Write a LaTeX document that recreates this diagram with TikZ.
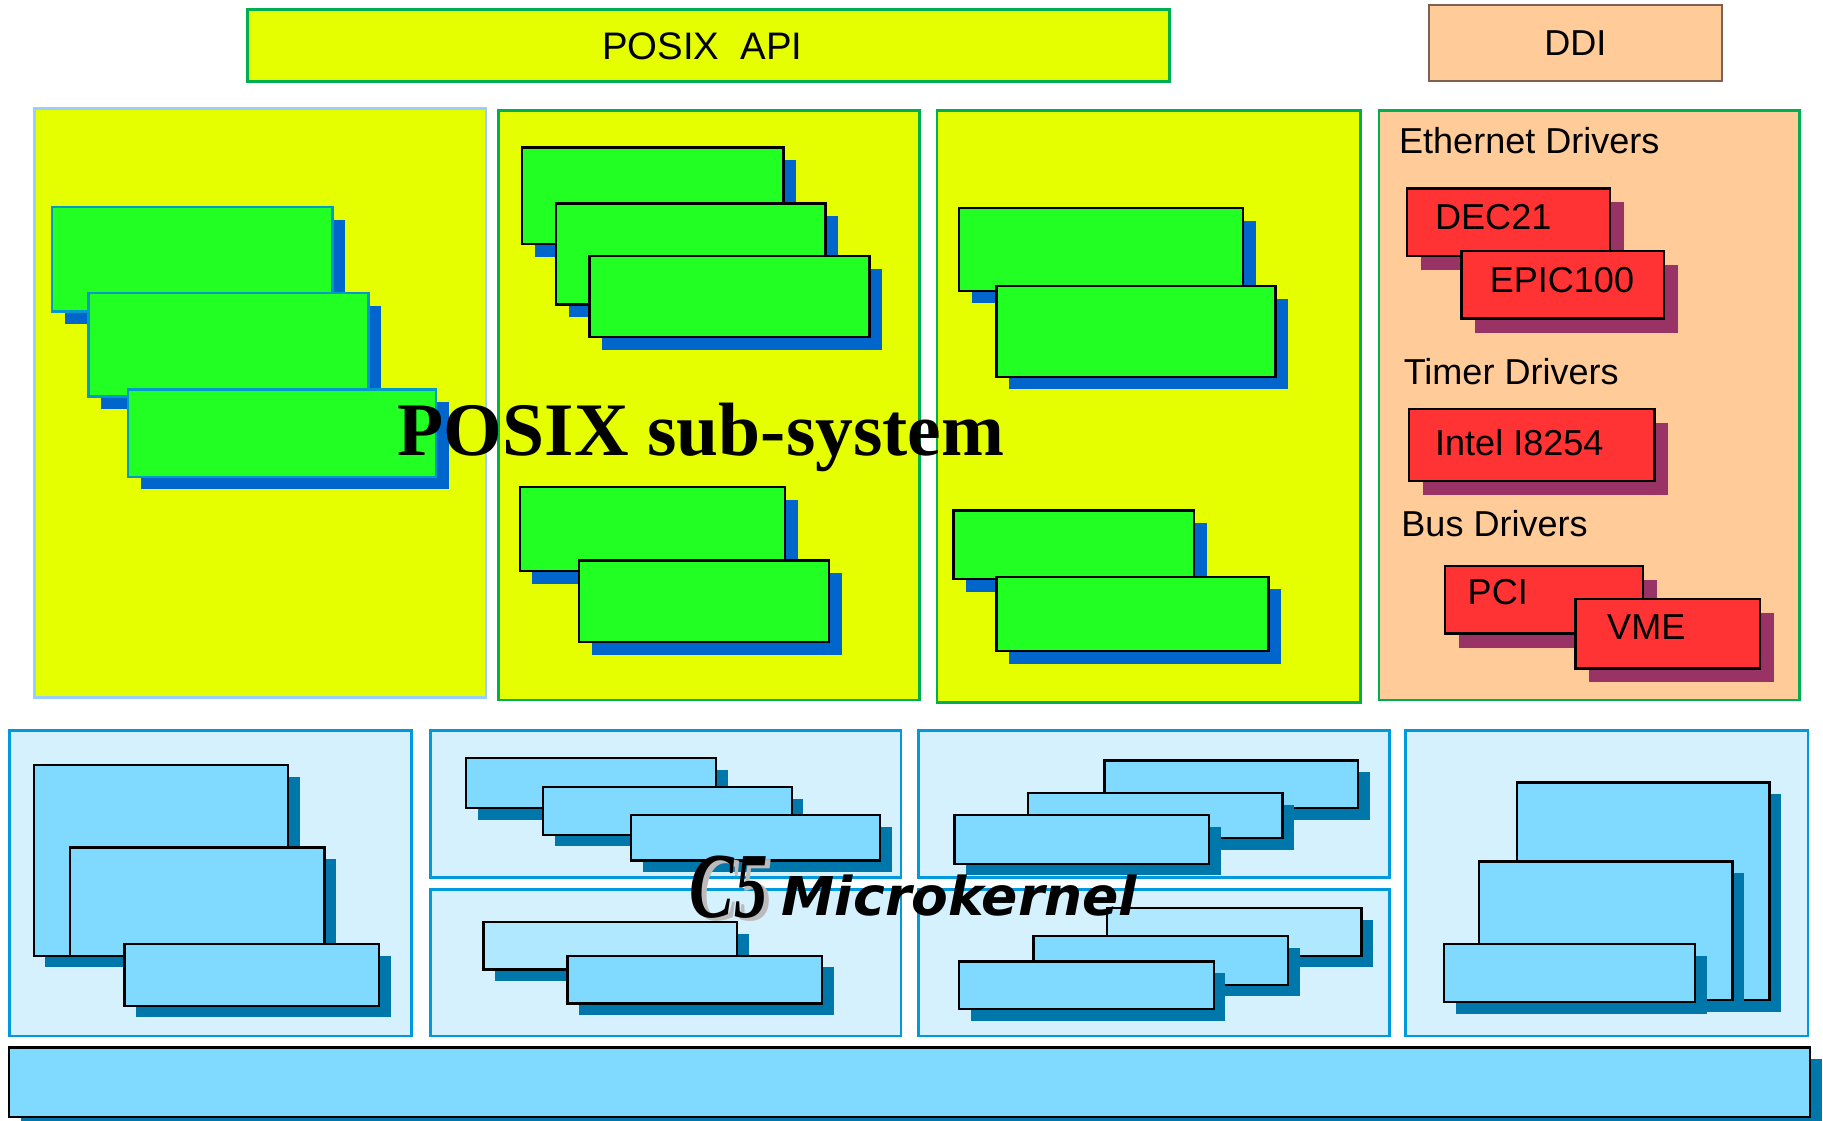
\documentclass[tikz,border=0pt]{standalone}
\usepackage{fontspec}
\setmainfont{Liberation Sans}
\newfontfamily\serifbold{Liberation Serif}
\newfontfamily\dejavu{DejaVu Sans}
\usetikzlibrary{shadows}
\definecolor{yel}{HTML}{E5FF00}
\definecolor{grn}{HTML}{22FF22}
\definecolor{grnline}{HTML}{00B050}
\definecolor{gshadow}{HTML}{0066CC}
\definecolor{gline}{HTML}{0099CC}
\definecolor{peach}{HTML}{FFCC99}
\definecolor{ddiline}{HTML}{806050}
\definecolor{redbox}{HTML}{FF3333}
\definecolor{rshadow}{HTML}{993366}
\definecolor{ltblue}{HTML}{99CCFF}
\definecolor{kfill}{HTML}{D5F1FD}
\definecolor{kline}{HTML}{0099DD}
\definecolor{bfill}{HTML}{80D9FF}
\definecolor{bfilllt}{HTML}{B0E8FF}
\definecolor{bshadow}{HTML}{0077AA}
\definecolor{c5gray}{HTML}{BBBBBB}
\newcommand\bx[7][]{%
  \pgfmathsetmacro\bxw{(#6-#4)*0.5}%
  \pgfmathsetmacro\bxh{(#7-#5)*0.5}%
  \node[box,#3,minimum width=\bxw pt,minimum height=\bxh pt,#1] (#2) at (#4,#5) {};}
\begin{document}
\begin{tikzpicture}[x=0.5pt,y=-0.5pt,
  box/.style={inner sep=0pt,outer sep=0pt,anchor=north west,line width=1pt},
  sh/.style={general shadow={fill=#1,shadow xshift=5.5pt,shadow yshift=-5.5pt}},
  cont/.style={line width=1.2pt},
  ycont/.style={cont,fill=yel,draw=grnline},
  kcont/.style={cont,fill=kfill,draw=kline},
  gboxa/.style={fill=grn,draw=gline,sh=gshadow},
  gbox/.style={fill=grn,draw=black,sh=gshadow},
  rbox/.style={fill=redbox,draw=black,general shadow={fill=rshadow,shadow xshift=6pt,shadow yshift=-6pt}},
  bbox/.style={fill=bfill,draw=black,general shadow={fill=bshadow,shadow xshift=5pt,shadow yshift=-5pt}},
  bboxlt/.style={bbox,fill=bfilllt},
  txt/.style={inner sep=0pt,font=\fontsize{15.5}{18}\selectfont}
]
\useasboundingbox (0,0) rectangle (1568,964);
% top
\bx{api}{ycont}{213}{8}{1006}{70}
\node[txt,font=\fontsize{16.5}{18}\selectfont] (apiT) at (604,40) {POSIX\ \ API};
\bx{ddi}{cont,fill=peach,draw=ddiline,line width=0.8pt}{1229}{4}{1481}{70}
\node[txt] (ddiT) at (ddi.center) {DDI};
% middle containers
\bx{m1}{cont,fill=yel,draw=ltblue}{30}{93}{418}{600}
\bx{m2}{ycont}{429}{95}{791}{602}
\bx{m3}{ycont}{806}{95}{1170}{604}
\bx{m4}{cont,fill=peach,draw=grnline}{1186}{95}{1548}{602}
% box1
\bx{p1}{gboxa}{45}{178}{286}{268}
\bx{p2}{gboxa}{76}{252}{317}{341}
\bx{p3}{gboxa}{110}{335}{375}{410}
% box2
\bx{a1}{gbox}{449}{127}{674}{210}
\bx{a2}{gbox}{478}{175}{710}{262}
\bx{a3}{gbox}{507}{220}{748}{290}
\bx{b1}{gbox}{447}{419}{675}{491}
\bx{b2}{gbox}{498}{482}{713}{552}
% box3
\bx{c1}{gbox}{825}{179}{1069}{250}
\bx{c2}{gbox}{857}{246}{1097}{324}
\bx{d1}{gbox}{820}{439}{1027}{498}
\bx{d2}{gbox}{857}{496}{1091}{560}
% drivers
\node[txt,anchor=west] (ethT) at (1203,121) {Ethernet Drivers};
\bx{dec}{rbox}{1210}{162}{1385}{220}
\node[txt,anchor=west] (decT) at (1234,187) {DEC21};
\bx{epic}{rbox}{1257}{216}{1431}{274}
\node[txt,anchor=west] (epicT) at (1281,241) {EPIC100};
\node[txt,anchor=west] (timT) at (1207,320) {Timer Drivers};
\bx{intel}{rbox}{1212}{352}{1423}{414}
\node[txt,anchor=west] (intelT) at (1234,381) {Intel I8254};
\node[txt,anchor=west] (busT) at (1205,450) {Bus Drivers};
\bx{pci}{rbox}{1243}{487}{1413}{545}
\node[txt,anchor=west] (pciT) at (1262,509) {PCI};
\bx{vme}{rbox}{1355}{515}{1514}{575}
\node[txt,anchor=west] (vmeT) at (1382,539) {VME};
% big title
\node[inner sep=0pt,anchor=base,font=\serifbold\bfseries\fontsize{32.5}{36}\selectfont] (posix) at (603,392) {POSIX sub-system};
% bottom containers
\bx{k1}{kcont}{8}{628}{354}{891}
\bx{k2}{kcont}{370}{628}{775}{755}
\bx{k3}{kcont}{370}{765}{775}{891}
\bx{k4}{kcont}{790}{628}{1195}{755}
\bx{k5}{kcont}{790}{765}{1195}{891}
\bx{k6}{kcont}{1209}{628}{1555}{891}
% blue boxes
\bx{e1}{bbox}{29}{658}{248}{822}
\bx{e2}{bbox}{60}{729}{279}{822}
\bx{e3}{bbox}{107}{812}{326}{865}
\bx{f1}{bbox}{401}{652}{616}{695}
\bx{f2}{bbox}{467}{677}{681}{718}
\bx{f3}{bbox}{543}{701}{757}{740}
\bx{g1}{bboxlt}{416}{793}{634}{834}
\bx{g2}{bbox}{488}{822}{707}{863}
\bx{h1}{bbox}{950}{654}{1168}{695}
\bx{h2}{bbox}{884}{682}{1103}{721}
\bx{h3}{bbox}{821}{701}{1040}{743}
\bx{i1}{bboxlt}{952}{781}{1171}{822}
\bx{i2}{bbox}{889}{805}{1108}{847}
\bx{i3}{bbox}{825}{827}{1044}{868}
\bx{j1}{bbox}{1305}{673}{1522}{860}
\bx{j2}{bbox}{1272}{741}{1490}{860}
\bx{j3}{bbox}{1242}{812}{1458}{862}
\bx{bar}{bbox}{8}{901}{1557}{961}
% microkernel title
\node[inner sep=0pt,anchor=base west,text=c5gray,xscale=0.72,font=\serifbold\bfseries\itshape\fontsize{40}{44}\selectfont] (c5s) at (597,792) {C5};
\node[inner sep=0pt,anchor=base west,xscale=0.72,font=\serifbold\bfseries\itshape\fontsize{40}{44}\selectfont] (c5) at (593,789) {C5};
\node[inner sep=0pt,anchor=base west,font=\dejavu\bfseries\itshape\fontsize{23}{26}\selectfont] (mk) at (672,787) {Microkernel};
\end{tikzpicture}
\end{document}
